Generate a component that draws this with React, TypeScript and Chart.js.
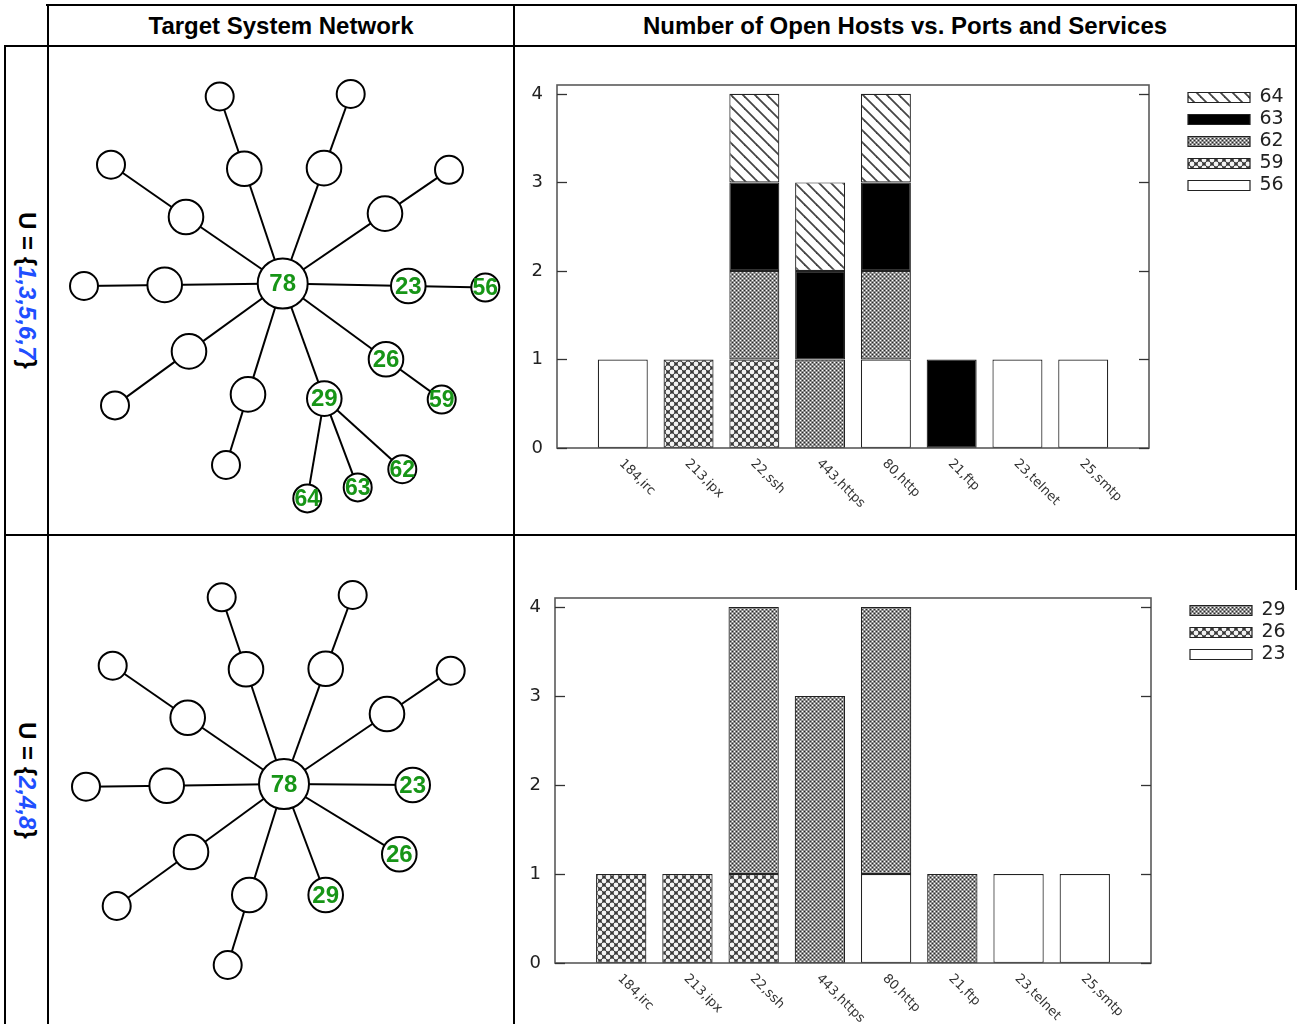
import React, { useEffect, useRef } from 'react';
import { Chart, registerables } from 'chart.js';

Chart.register(...registerables);

// ---------- DATA ----------
const PORTS = ['184,irc', '213,ipx', '22,ssh', '443,https', '80,http', '21,ftp', '23,telnet', '25,smtp'];
const Y_TICKS = [0, 1, 2, 3, 4];

// top chart (U = {1,3,5,6,7}) — stacked bottom to top
const TOP_SERIES = ['56', '59', '62', '63', '64'];
const TOP_56 = [1, 0, 0, 0, 1, 0, 1, 1];
const TOP_59 = [0, 1, 1, 0, 0, 0, 0, 0];
const TOP_62 = [0, 0, 1, 1, 1, 0, 0, 0];
const TOP_63 = [0, 0, 1, 1, 1, 1, 0, 0];
const TOP_64 = [0, 0, 1, 1, 1, 0, 0, 0];
const TOP_FILLS = ['white', 'coarse', 'fine', 'black', 'hatch'];

// bottom chart (U = {2,4,8})
const BOT_SERIES = ['23', '26', '29'];
const BOT_23 = [0, 0, 0, 0, 1, 0, 1, 1];
const BOT_26 = [1, 1, 1, 0, 0, 0, 0, 0];
const BOT_29 = [0, 0, 3, 3, 3, 1, 0, 0];
const BOT_FILLS = ['white', 'coarse', 'fine'];

// network graphs: node layout relative to the hub (y up)
const NET_TOP_X = [0, -38.4, 41.3, -96.7, 102.3, -118, 125.6, -93.7, 103.3, -34.7, 41.6, -63, 68, -171.7, 166.3, -198.7, 202.6, -167.7, 159, -56.7, 119.6, 75, 24.6];
const NET_TOP_Y = [0, 114.7, 115.4, 66.5, 69.9, -1.4, -2.5, -67.9, -75.8, -110.9, -115.1, 187, 189.5, 118.8, 113.7, -2.5, -4.1, -121.9, -116.1, -181.5, -185.7, -203.9, -214.9];
const NET_TOP_LABELS = ['78', '', '', '', '', '', '23', '', '26', '', '29', '', '', '', '', '', '56', '', '59', '', '62', '63', '64'];
const NET_TOP_KIND = ['hub', 'mid', 'mid', 'mid', 'mid', 'mid', 'mid', 'mid', 'mid', 'mid', 'mid', 'leaf', 'leaf', 'leaf', 'leaf', 'leaf', 'leaf', 'leaf', 'leaf', 'leaf', 'leaf', 'leaf', 'leaf'];
const NET_TOP_EDGES = [[0, 1], [0, 2], [0, 3], [0, 4], [0, 5], [0, 6], [0, 7], [0, 8], [0, 9], [0, 10], [1, 11], [2, 12], [3, 13], [4, 14], [5, 15], [6, 16], [7, 17], [8, 18], [9, 19], [10, 20], [10, 21], [10, 22]];

const NET_BOT_X = [0, -38, 41.7, -96.3, 103, -117.3, 128.7, -93, 115.3, -34.7, 41.7, -62.3, 68.7, -171.3, 166.7, -198, -167.3, -56.3];
const NET_BOT_Y = [0, 114.7, 115.3, 66.3, 70, -1.7, -1, -68, -70.3, -111, -111, 186.7, 189, 118.3, 113.3, -2.7, -122, -181];
const NET_BOT_LABELS = ['78', '', '', '', '', '', '23', '', '26', '', '29', '', '', '', '', '', '', ''];
const NET_BOT_KIND = ['hub', 'mid', 'mid', 'mid', 'mid', 'mid', 'mid', 'mid', 'mid', 'mid', 'mid', 'leaf', 'leaf', 'leaf', 'leaf', 'leaf', 'leaf', 'leaf'];
const NET_BOT_EDGES = [[0, 1], [0, 2], [0, 3], [0, 4], [0, 5], [0, 6], [0, 7], [0, 8], [0, 9], [0, 10], [1, 11], [2, 12], [3, 13], [4, 14], [5, 15], [7, 16], [9, 17]];

// ---------- styling helpers ----------
const KIND_RADIUS: Record<string, number> = { hub: 25, mid: 17.3, leaf: 14 };
const KIND_FONT: Record<string, number> = { hub: 24, mid: 24, leaf: 23 };
const GREEN = '#179517';

function makeFill(kind: string): any {
  if (kind === 'white') return '#ffffff';
  if (kind === 'black') return '#000000';
  const c = document.createElement('canvas');
  const g = c.getContext('2d')!;
  if (kind === 'fine') {
    c.width = 4; c.height = 4;
    g.fillStyle = '#8e8e8e'; g.fillRect(0, 0, 4, 4);
    g.fillStyle = '#ffffff'; g.fillRect(0, 0, 1, 1); g.fillRect(2, 2, 1, 1);
    g.fillStyle = '#2a2a2a'; g.fillRect(2, 0, 1, 1); g.fillRect(0, 2, 1, 1);
  } else if (kind === 'coarse') {
    c.width = 8; c.height = 8;
    g.fillStyle = '#383838'; g.fillRect(0, 0, 8, 8);
    g.fillStyle = '#f4f4f4';
    const dots = [[4, 4], [0, 0], [8, 0], [0, 8], [8, 8]];
    dots.forEach(([x, y]) => { g.beginPath(); g.arc(x, y, 2.4, 0, Math.PI * 2); g.fill(); });
  } else if (kind === 'hatch') {
    const s = 12;
    c.width = s; c.height = s;
    g.fillStyle = '#ffffff'; g.fillRect(0, 0, s, s);
    g.strokeStyle = '#444444'; g.lineWidth = 1.8;
    for (let k = -1; k <= 1; k++) {
      g.beginPath(); g.moveTo(k * s - s, -s); g.lineTo(k * s + 2 * s, 2 * s); g.stroke();
    }
  }
  return g.createPattern(c, 'repeat');
}

type BarLayout = { yWidth: number; xHeight: number; padTop: number; padRight: number; gap: number };

function barConfig(series: string[], values: number[][], fills: string[], lay: BarLayout): any {
  const framePlugin = {
    id: 'gnuplotFrame',
    afterDatasetsDraw(chart: any) {
      const { ctx, chartArea } = chart;
      const { left, right, top, bottom } = chartArea;
      const y = chart.scales.y, x = chart.scales.x;
      ctx.save();
      ctx.strokeStyle = '#5a5a5a';
      ctx.lineWidth = 1.6;
      ctx.strokeRect(left, top, right - left, bottom - top);
      ctx.strokeStyle = '#333';
      ctx.lineWidth = 1.3;
      Y_TICKS.forEach((v) => {
        const py = Math.round(y.getPixelForValue(v)) + 0.5;
        ctx.beginPath(); ctx.moveTo(left, py); ctx.lineTo(left + 10, py); ctx.stroke();
        ctx.beginPath(); ctx.moveTo(right - 10, py); ctx.lineTo(right, py); ctx.stroke();
      });
      ctx.fillStyle = '#333';
      ctx.font = '13px "DejaVu Sans"';
      ctx.textAlign = 'left';
      ctx.textBaseline = 'top';
      PORTS.forEach((p, i) => {
        const px = x.getPixelForValue(i + 1);
        ctx.save();
        ctx.translate(px + 3, bottom + 9);
        ctx.rotate(Math.PI / 4);
        ctx.fillText(p, 0, 0);
        ctx.restore();
      });
      ctx.restore();
    },
  };
  return {
    type: 'bar',
    data: {
      datasets: series.map((name, si) => ({
        label: name,
        data: values[si].map((v, i) => ({ x: i + 1, y: v })).filter((p) => p.y > 0),
        backgroundColor: makeFill(fills[si]),
        borderColor: '#222',
        borderWidth: 1.2,
        borderSkipped: false,
        barPercentage: 0.76,
        categoryPercentage: 1,
      })),
    },
    options: {
      responsive: false,
      animation: false,
      devicePixelRatio: 1,
      events: [],
      layout: { padding: { left: 0, top: lay.padTop, right: lay.padRight, bottom: 0 } },
      scales: {
        x: {
          type: 'linear', min: 0, max: PORTS.length + 1, stacked: true, offset: false,
          ticks: { display: false, stepSize: 1 },
          grid: { display: false, drawTicks: false, offset: false },
          border: { display: false },
          afterFit: (s: any) => { s.height = lay.xHeight; },
        },
        y: {
          type: 'linear', min: 0, max: 4.1, stacked: true,
          ticks: { padding: 14, color: '#222', font: { family: 'DejaVu Sans', size: 18 } },
          grid: { display: false, drawTicks: false },
          border: { display: false },
          afterBuildTicks: (s: any) => { s.ticks = Y_TICKS.map((v) => ({ value: v })); },
          afterFit: (s: any) => { s.width = lay.yWidth; },
        },
        gap: {
          type: 'linear', position: 'right', display: true,
          ticks: { display: false },
          grid: { display: false, drawTicks: false },
          border: { display: false },
          afterFit: (s: any) => { s.width = lay.gap; },
        },
      },
      plugins: {
        tooltip: { enabled: false },
        legend: {
          position: 'right',
          align: 'start',
          reverse: true,
          maxWidth: 98,
          labels: {
            boxWidth: 62, boxHeight: 10, padding: 3, color: '#222',
            font: { family: 'DejaVu Sans', size: 19 },
          },
        },
      },
    },
    plugins: [framePlugin],
  };
}

type NetLayout = { hubX: number; hubY: number; w: number; h: number };

function netConfig(xs: number[], ys: number[], labels: string[], kinds: string[], edges: number[][], lay: NetLayout): any {
  const pts = xs.map((x, i) => ({ x, y: ys[i] }));
  const labelPlugin = {
    id: 'nodeLabels',
    afterDatasetsDraw(chart: any) {
      const meta = chart.getDatasetMeta(0);
      const ctx = chart.ctx;
      ctx.save();
      ctx.fillStyle = GREEN;
      ctx.textAlign = 'center';
      ctx.textBaseline = 'middle';
      meta.data.forEach((el: any, i: number) => {
        if (!labels[i]) return;
        ctx.font = `bold ${KIND_FONT[kinds[i]]}px "Liberation Sans"`;
        ctx.fillText(labels[i], el.x, el.y + 1);
      });
      ctx.restore();
    },
  };
  return {
    type: 'scatter',
    data: {
      datasets: [
        {
          data: pts,
          order: 0,
          clip: false,
          pointRadius: kinds.map((k) => KIND_RADIUS[k]),
          pointBackgroundColor: '#ffffff',
          pointBorderColor: '#000000',
          pointBorderWidth: 2,
        },
        ...edges.map(([a, b]) => ({
          data: [pts[a], pts[b]],
          order: 1,
          clip: false,
          showLine: true,
          borderColor: '#000000',
          borderWidth: 2,
          pointRadius: 0,
        })),
      ],
    },
    options: {
      responsive: false,
      animation: false,
      devicePixelRatio: 1,
      events: [],
      layout: { padding: 0, autoPadding: false },
      scales: {
        x: { type: 'linear', display: false, min: -lay.hubX, max: lay.w - lay.hubX },
        y: { type: 'linear', display: false, min: -(lay.h - lay.hubY), max: lay.hubY },
      },
      plugins: { legend: { display: false }, tooltip: { enabled: false } },
    },
    plugins: [labelPlugin],
  };
}

function ChartCanvas({ make, left, top, width, height }: { make: () => any; left: number; top: number; width: number; height: number }) {
  const ref = useRef<HTMLCanvasElement>(null);
  useEffect(() => {
    const chart = new Chart(ref.current as HTMLCanvasElement, make());
    return () => chart.destroy();
  }, []);
  return (
    <canvas
      ref={ref}
      width={width}
      height={height}
      style={{ position: 'absolute', left, top, width, height, display: 'block' }}
    />
  );
}

function Line({ x, y, w, h }: { x: number; y: number; w: number; h: number }) {
  return <div style={{ position: 'absolute', left: x, top: y, width: w, height: h, background: '#000' }} />;
}

const headFont = 'bold 24px "Liberation Sans", Arial, sans-serif';

function RowLabel({ top, height, members }: { top: number; height: number; members: string }) {
  return (
    <div style={{ position: 'absolute', left: 6, top, width: 41, height, display: 'flex', alignItems: 'center', justifyContent: 'center' }}>
      <div style={{ writingMode: 'vertical-rl', font: headFont, whiteSpace: 'nowrap', color: '#000' }}>
        U = {'{'}<span style={{ color: '#1f4fff', fontStyle: 'italic' }}>{members}</span>{'}'}
      </div>
    </div>
  );
}

export default function App() {
  return (
    <div style={{ position: 'absolute', left: 0, top: 0, width: 1299, height: 1024, background: '#fff', overflow: 'hidden' }}>
      {/* header texts */}
      <div style={{ position: 'absolute', left: 49, top: 6, width: 464, height: 39, display: 'flex', alignItems: 'center', justifyContent: 'center', font: headFont }}>
        Target System Network
      </div>
      <div style={{ position: 'absolute', left: 515, top: 6, width: 780, height: 39, display: 'flex', alignItems: 'center', justifyContent: 'center', font: headFont }}>
        Number of Open Hosts vs. Ports and Services
      </div>
      <RowLabel top={47} height={487} members="1,3,5,6,7" />
      <RowLabel top={536} height={488} members="2,4,8" />

      <ChartCanvas
        left={49} top={48} width={464} height={486}
        make={() => netConfig(NET_TOP_X, NET_TOP_Y, NET_TOP_LABELS, NET_TOP_KIND, NET_TOP_EDGES, { hubX: 233.7, hubY: 235.5, w: 464, h: 486 })}
      />
      <ChartCanvas
        left={49} top={537} width={464} height={486}
        make={() => netConfig(NET_BOT_X, NET_BOT_Y, NET_BOT_LABELS, NET_BOT_KIND, NET_BOT_EDGES, { hubX: 235, hubY: 247, w: 464, h: 486 })}
      />
      <ChartCanvas
        left={516} top={48} width={779} height={484}
        make={() => barConfig(TOP_SERIES, [TOP_56, TOP_59, TOP_62, TOP_63, TOP_64], TOP_FILLS, { yWidth: 41, xHeight: 84, padTop: 37, padRight: 12, gap: 36 })}
      />
      <ChartCanvas
        left={516} top={537} width={779} height={487}
        make={() => barConfig(BOT_SERIES, [BOT_23, BOT_26, BOT_29], BOT_FILLS, { yWidth: 39, xHeight: 61, padTop: 61, padRight: 10, gap: 36 })}
      />

      {/* table rules */}
      <Line x={46} y={4} w={1251} h={2} />
      <Line x={4} y={45} w={1293} h={2} />
      <Line x={4} y={534} w={1293} h={2} />
      <Line x={4} y={45} w={2} h={979} />
      <Line x={47} y={4} w={2} h={1020} />
      <Line x={513} y={4} w={2} h={1020} />
      <Line x={1295} y={4} w={2} h={586} />
    </div>
  );
}
